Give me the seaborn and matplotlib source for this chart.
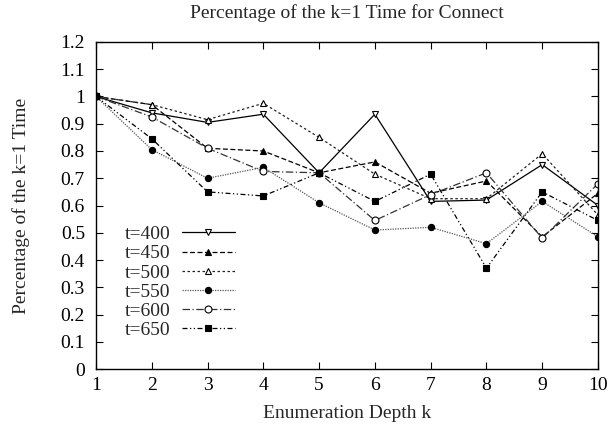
import pandas as pd
import matplotlib
matplotlib.use("Agg")
import matplotlib.pyplot as plt
import seaborn as sns

# data
depth = [1, 2, 3, 4, 5, 6, 7, 8, 9, 10]
t400 = [1.0, 0.94, 0.905, 0.935, 0.72, 0.935, 0.615, 0.62, 0.75, 0.60]
t450 = [1.0, 0.97, 0.81, 0.80, 0.72, 0.76, 0.645, 0.69, 0.485, 0.645]
t500 = [1.0, 0.97, 0.915, 0.975, 0.85, 0.715, 0.625, 0.625, 0.79, 0.565]
t550 = [1.0, 0.805, 0.70, 0.74, 0.61, 0.51, 0.52, 0.46, 0.615, 0.485]
t600 = [1.0, 0.925, 0.81, 0.725, 0.72, 0.545, 0.64, 0.72, 0.48, 0.68]
t650 = [1.0, 0.845, 0.65, 0.635, 0.72, 0.615, 0.715, 0.37, 0.65, 0.545]

labels = ["t=400", "t=450", "t=500", "t=550", "t=600", "t=650"]
series = [t400, t450, t500, t550, t600, t650]

# gnuplot-ish styles
styles = {
    "t=400": dict(marker="v", mfc="white", ms=5, ls="-", color="black"),
    "t=450": dict(marker="^", mfc="black", ms=4, ls=(0, (4, 2)), color="black"),
    "t=500": dict(marker="^", mfc="white", ms=5, ls=(0, (2, 2)), color="#222222"),
    "t=550": dict(marker="o", mfc="black", ms=4.5, ls=(0, (1, 1)), color="#555555"),
    "t=600": dict(marker="o", mfc="white", ms=5, ls=(0, (6, 2, 1, 2)), color="#333333"),
    "t=650": dict(marker="s", mfc="black", ms=5, ls=(0, (4, 2, 1, 2, 1, 2)), color="black"),
}

df = pd.DataFrame({"k": depth * len(labels),
                   "pct": sum(series, []),
                   "t": [lab for lab in labels for _ in depth]})

sns.set_theme(style="ticks")
plt.rcParams["font.family"] = ["Liberation Serif", "DejaVu Serif"]
plt.rcParams["xtick.direction"] = "in"
plt.rcParams["ytick.direction"] = "in"

fig = plt.figure(figsize=(6.13, 4.32), dpi=100)
ax = fig.add_axes([0.1566, 0.1458, 0.8189, 0.757])

for lab in labels:
    st = styles[lab]
    sub = df[df["t"] == lab]
    sns.lineplot(data=sub, x="k", y="pct", ax=ax, label=lab,
                 color=st["color"], linestyle=st["ls"], linewidth=0.9,
                 marker=st["marker"], markersize=st["ms"],
                 markerfacecolor=st["mfc"], markeredgecolor="black",
                 markeredgewidth=0.8)

ax.set_xlim(1, 10)
ax.set_ylim(0, 1.2)
ax.set_xticks(depth)
ax.set_yticks([i / 10 for i in range(13)])
ax.set_yticklabels(["0", "0.1", "0.2", "0.3", "0.4", "0.5", "0.6", "0.7",
                    "0.8", "0.9", "1", "1.1", "1.2"])
ax.tick_params(axis="both", labelsize=14, length=5, width=0.8,
               top=True, right=True, color="black", labelcolor="black")
ax.tick_params(axis="y", pad=8)
ax.tick_params(axis="x", pad=6)
for sp in ax.spines.values():
    sp.set_linewidth(1.0)
    sp.set_color("black")

ax.set_xlabel("Enumeration Depth k", fontsize=14, labelpad=8)
ax.set_ylabel("Percentage of the k=1 Time", fontsize=14, labelpad=22)
ax.set_title("Percentage of the k=1 Time for Connect", fontsize=14, pad=17)

ax.legend(loc="upper left", bbox_to_anchor=(0.03, 0.48), frameon=False,
          markerfirst=False, fontsize=14, handlelength=2.7,
          labelspacing=0.08, borderpad=0.2, handletextpad=0.6)

plt.savefig("out.png", dpi=100)
